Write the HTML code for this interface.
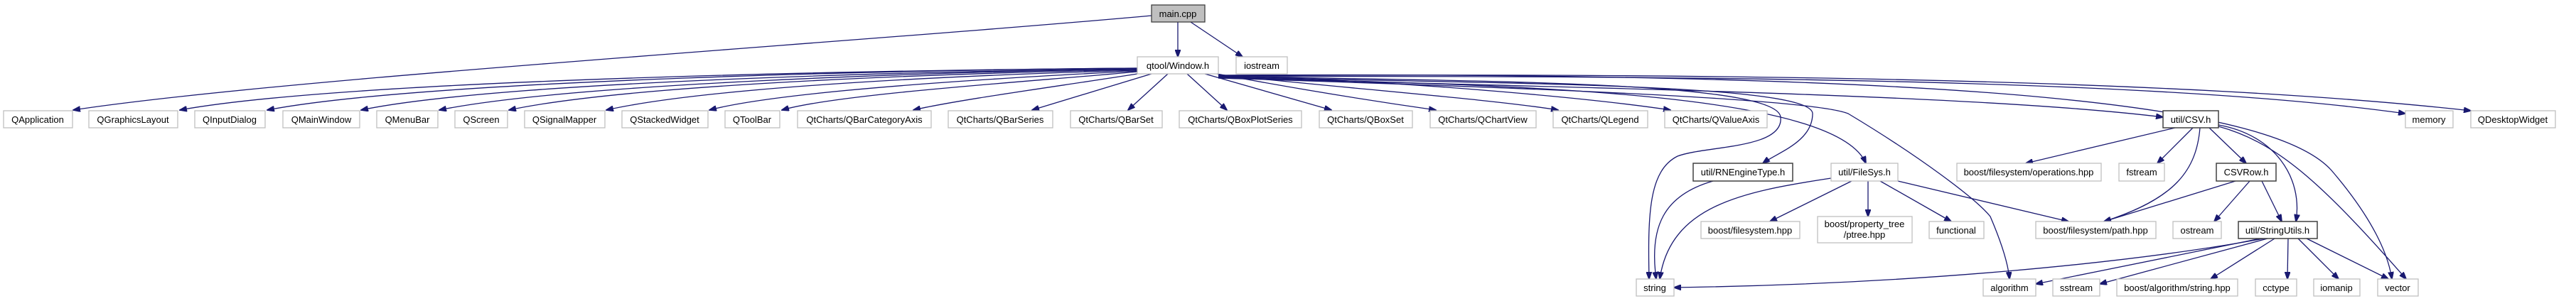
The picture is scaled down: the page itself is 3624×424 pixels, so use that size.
<!DOCTYPE html>
<html><head><meta charset="utf-8"><style>
html,body{margin:0;padding:0;background:#fff;width:3624px;height:424px;overflow:hidden}
text{font-family:"Liberation Sans",Arial,sans-serif;font-size:13px;fill:#000;text-anchor:middle}
.n{fill:#fff;stroke:#bfbfbf;stroke-width:1.3}
.d{fill:#fff;stroke:#404040;stroke-width:1.5}
.r{fill:#bfbfbf;stroke:#404040;stroke-width:1.3}
path.e{fill:none;stroke:#191970;stroke-width:1.3}
</style></head><body>
<svg width="3624" height="424" viewBox="0 0 3624 424" xmlns="http://www.w3.org/2000/svg">
<defs><marker id="a" markerWidth="11" markerHeight="8" refX="10" refY="4" orient="auto" markerUnits="userSpaceOnUse"><path d="M0,0 L11,4 L0,8 z" fill="#191970" stroke="#191970"/></marker></defs>
<g marker-end="url(#a)">
<!-- main.cpp -->
<path class="e" d="M1620,22 C1200,60 400,110 103,155"/>
<path class="e" d="M1657,31 L1657,80"/>
<path class="e" d="M1675,31 L1748,80"/>
<!-- Window.h left group -->
<path class="e" d="M1600,96 C1300,98 500,110 253,155"/>
<path class="e" d="M1600,96 C1300,98 600,112 376,155"/>
<path class="e" d="M1600,97 C1300,100 700,115 508,155"/>
<path class="e" d="M1600,97 C1300,102 800,118 618,155"/>
<path class="e" d="M1600,98 C1300,104 880,120 716,155"/>
<path class="e" d="M1600,99 C1350,106 1000,122 853,155"/>
<path class="e" d="M1600,100 C1400,110 1100,128 998,155"/>
<path class="e" d="M1600,101 C1450,115 1180,132 1100,155"/>
<path class="e" d="M1600,104 C1500,120 1350,140 1285,155"/>
<path class="e" d="M1620,104 L1452,155"/>
<path class="e" d="M1643,104 L1587,155"/>
<path class="e" d="M1670,104 L1726,155"/>
<path class="e" d="M1695,104 L1873,155"/>
<path class="e" d="M1712,104 C1850,130 1950,145 2020,155"/>
<path class="e" d="M1714,105 C1900,125 2100,140 2192,155"/>
<path class="e" d="M1714,106 C2000,115 2250,140 2350,155"/>
<!-- Window.h to far nodes -->
<path class="e" d="M1714,107 C2000,115 2500,110 2505,165 C2510,210 2400,205 2360,220 C2320,240 2318,300 2320,393"/>
<path class="e" d="M1714,108 C2050,118 2550,115 2550,160 C2550,200 2500,215 2480,230"/>
<path class="e" d="M1714,109 C2100,120 2580,125 2625,230"/>
<path class="e" d="M1714,110 C2200,125 2550,140 2600,160 C2700,220 2780,280 2800,305 C2815,340 2825,370 2827,393"/>
<path class="e" d="M1714,110 C2300,125 2800,135 3043,165"/>
<path class="e" d="M1714,108 C2600,105 3100,120 3384,160"/>
<path class="e" d="M1714,107 C2700,100 3200,125 3476,156"/>
<path class="e" d="M1714,106 C2800,100 3200,150 3280,240 C3340,310 3360,360 3365,393"/>
<!-- RNEngine / FileSys -->
<path class="e" d="M2410,255 C2340,275 2320,320 2330,393"/>
<path class="e" d="M2576,251 C2450,270 2350,290 2335,393"/>
<path class="e" d="M2605,255 L2490,312"/>
<path class="e" d="M2628,255 L2628,305"/>
<path class="e" d="M2645,255 L2745,312"/>
<path class="e" d="M2670,255 L2910,312"/>
<!-- CSV.h -->
<path class="e" d="M3060,180 L2850,230"/>
<path class="e" d="M3085,180 L3035,230"/>
<path class="e" d="M3095,180 C3090,240 3060,280 2960,312"/>
<path class="e" d="M3108,180 L3160,230"/>
<path class="e" d="M3121,176 C3200,190 3240,250 3230,312"/>
<path class="e" d="M3121,178 C3200,200 3260,250 3385,393"/>
<!-- CSVRow -->
<path class="e" d="M3145,255 L2960,312"/>
<path class="e" d="M3165,255 L3115,312"/>
<path class="e" d="M3182,255 L3210,312"/>
<!-- StringUtils -->
<path class="e" d="M3185,336 C3000,370 2700,400 2355,405"/>
<path class="e" d="M3180,336 L2864,400"/>
<path class="e" d="M3190,336 L2954,400"/>
<path class="e" d="M3200,336 L3110,393"/>
<path class="e" d="M3219,336 L3218,393"/>
<path class="e" d="M3233,336 L3290,393"/>
<path class="e" d="M3245,336 L3360,393"/>
</g>
<!-- nodes -->
<rect class="r" x="1620" y="7" width="75" height="24"/><text x="1657" y="24">main.cpp</text>
<rect class="n" x="1600" y="80" width="114" height="24"/><text x="1657" y="97">qtool/Window.h</text>
<rect class="n" x="1739" y="80" width="72" height="24"/><text x="1775" y="97">iostream</text>
<g>
<rect class="n" x="5" y="156" width="97" height="24"/><text x="53" y="173">QApplication</text>
<rect class="n" x="125" y="156" width="125" height="24"/><text x="187" y="173">QGraphicsLayout</text>
<rect class="n" x="274" y="156" width="99" height="24"/><text x="323" y="173">QInputDialog</text>
<rect class="n" x="398" y="156" width="108" height="24"/><text x="452" y="173">QMainWindow</text>
<rect class="n" x="530" y="156" width="86" height="24"/><text x="573" y="173">QMenuBar</text>
<rect class="n" x="640" y="156" width="74" height="24"/><text x="677" y="173">QScreen</text>
<rect class="n" x="738" y="156" width="113" height="24"/><text x="794" y="173">QSignalMapper</text>
<rect class="n" x="875" y="156" width="121" height="24"/><text x="935" y="173">QStackedWidget</text>
<rect class="n" x="1020" y="156" width="77" height="24"/><text x="1058" y="173">QToolBar</text>
<rect class="n" x="1122" y="156" width="188" height="24"/><text x="1216" y="173">QtCharts/QBarCategoryAxis</text>
<rect class="n" x="1334" y="156" width="147" height="24"/><text x="1407" y="173">QtCharts/QBarSeries</text>
<rect class="n" x="1506" y="156" width="129" height="24"/><text x="1570" y="173">QtCharts/QBarSet</text>
<rect class="n" x="1659" y="156" width="172" height="24"/><text x="1745" y="173">QtCharts/QBoxPlotSeries</text>
<rect class="n" x="1856" y="156" width="131" height="24"/><text x="1921" y="173">QtCharts/QBoxSet</text>
<rect class="n" x="2012" y="156" width="149" height="24"/><text x="2086" y="173">QtCharts/QChartView</text>
<rect class="n" x="2185" y="156" width="133" height="24"/><text x="2251" y="173">QtCharts/QLegend</text>
<rect class="n" x="2342" y="156" width="144" height="24"/><text x="2414" y="173">QtCharts/QValueAxis</text>
<rect class="d" x="3043" y="156" width="78" height="24"/><text x="3082" y="173">util/CSV.h</text>
<rect class="n" x="3384" y="156" width="67" height="24"/><text x="3417" y="173">memory</text>
<rect class="n" x="3476" y="156" width="119" height="24"/><text x="3535" y="173">QDesktopWidget</text>
</g>
<rect class="d" x="2382" y="230" width="140" height="25"/><text x="2452" y="247">util/RNEngineType.h</text>
<rect class="n" x="2576" y="230" width="94" height="25"/><text x="2623" y="247">util/FileSys.h</text>
<rect class="n" x="2753" y="230" width="203" height="25"/><text x="2854" y="247">boost/filesystem/operations.hpp</text>
<rect class="n" x="2981" y="230" width="64" height="25"/><text x="3013" y="247">fstream</text>
<rect class="d" x="3118" y="230" width="84" height="25"/><text x="3160" y="247">CSVRow.h</text>
<rect class="n" x="2393" y="312" width="139" height="24"/><text x="2462" y="329">boost/filesystem.hpp</text>
<rect class="n" x="2557" y="305" width="133" height="37"/><text x="2623" y="320">boost/property_tree</text><text x="2623" y="335">/ptree.hpp</text>
<rect class="n" x="2714" y="312" width="77" height="24"/><text x="2752" y="329">functional</text>
<rect class="n" x="2864" y="312" width="169" height="24"/><text x="2948" y="329">boost/filesystem/path.hpp</text>
<rect class="n" x="3057" y="312" width="68" height="24"/><text x="3091" y="329">ostream</text>
<rect class="d" x="3149" y="312" width="111" height="24"/><text x="3204" y="329">util/StringUtils.h</text>
<rect class="n" x="2302" y="393" width="53" height="24"/><text x="2328" y="410">string</text>
<rect class="n" x="2790" y="393" width="74" height="24"/><text x="2827" y="410">algorithm</text>
<rect class="n" x="2888" y="393" width="66" height="24"/><text x="2921" y="410">sstream</text>
<rect class="n" x="2978" y="393" width="170" height="24"/><text x="3063" y="410">boost/algorithm/string.hpp</text>
<rect class="n" x="3173" y="393" width="58" height="24"/><text x="3202" y="410">cctype</text>
<rect class="n" x="3255" y="393" width="65" height="24"/><text x="3287" y="410">iomanip</text>
<rect class="n" x="3345" y="393" width="57" height="24"/><text x="3373" y="410">vector</text>
</svg>
</body></html>
